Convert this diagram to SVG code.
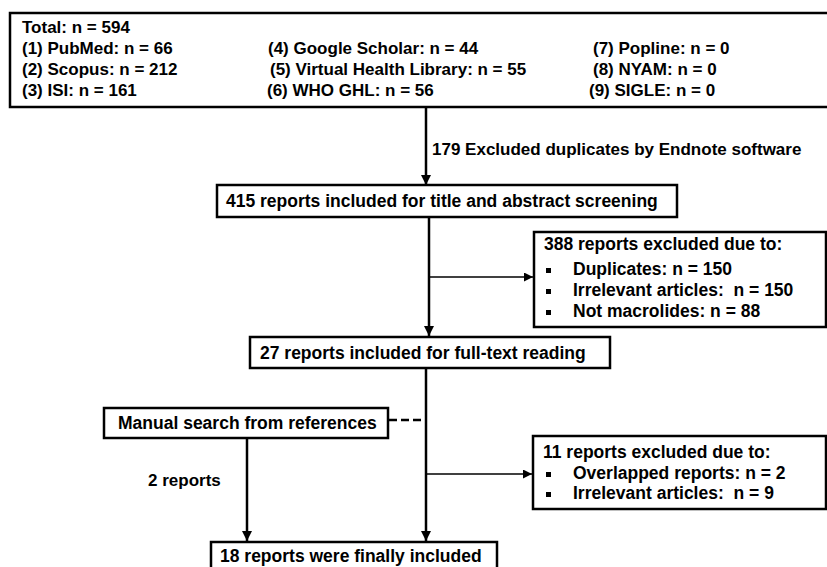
<svg xmlns="http://www.w3.org/2000/svg" width="827" height="567" viewBox="0 0 827 567">
<defs>
<style>
text{font-family:"Liberation Sans",Arial,sans-serif;font-weight:bold;font-size:17.5px;fill:#000}
.sm{font-size:17px}
.box{fill:#fff;stroke:#000;stroke-width:2.5}
.main{stroke:#000;stroke-width:2.5;fill:none}
.thin{stroke:#000;stroke-width:1.5;fill:none}
.dash{stroke:#000;stroke-width:2.5;fill:none;stroke-dasharray:8 4}
</style>
<marker id="ah" viewBox="0 0 10 10" refX="10" refY="5" markerWidth="4" markerHeight="4" orient="auto" markerUnits="strokeWidth">
<path d="M0,0 L10,5 L0,10 z" fill="#000"/>
</marker>
<marker id="ahs" viewBox="0 0 10 10" refX="10" refY="5" markerWidth="6" markerHeight="6" orient="auto" markerUnits="strokeWidth">
<path d="M0,0 L10,5 L0,10 z" fill="#000"/>
</marker>
</defs>
<rect width="827" height="567" fill="#fff"/>
<g id="connectors">
<line class="main" x1="426" y1="107" x2="426" y2="185" marker-end="url(#ah)"/>
<line class="main" x1="429" y1="217" x2="429" y2="336" marker-end="url(#ah)"/>
<line class="thin" x1="429" y1="277" x2="533" y2="277" marker-end="url(#ahs)"/>
<line class="main" x1="426" y1="368" x2="426" y2="541" marker-end="url(#ah)"/>
<line class="thin" x1="426" y1="474" x2="532" y2="474" marker-end="url(#ahs)"/>
<line class="main" x1="247" y1="438" x2="247" y2="541" marker-end="url(#ah)"/>
<line class="dash" x1="389" y1="420" x2="426" y2="420"/>
<text class="sm" x="432" y="155">179 Excluded duplicates by Endnote software</text>
<text class="sm" x="148" y="486">2 reports</text>
</g>
<g id="sources">
<rect class="box" x="10" y="13" width="830" height="94"/>
<text class="sm" x="22" y="33">Total: n = 594</text>
<text class="sm" x="22" y="54">(1) PubMed: n = 66</text>
<text class="sm" x="22" y="75">(2) Scopus: n = 212</text>
<text class="sm" x="22" y="96">(3) ISI: n = 161</text>
<text class="sm" x="268" y="54">(4) Google Scholar: n = 44</text>
<text class="sm" x="270" y="75">(5) Virtual Health Library: n = 55</text>
<text class="sm" x="267" y="96">(6) WHO GHL: n = 56</text>
<text class="sm" x="593" y="54">(7) Popline: n = 0</text>
<text class="sm" x="593" y="75">(8) NYAM: n = 0</text>
<text class="sm" x="589" y="96">(9) SIGLE: n = 0</text>
</g>
<g id="screening">
<rect class="box" x="217" y="185" width="460" height="32"/>
<text x="226" y="207">415 reports included for title and abstract screening</text>
</g>
<g id="excluded1">
<rect class="box" x="534" y="232" width="292" height="95"/>
<text x="544" y="250">388 reports excluded due to:</text>
<rect x="546" y="268" width="5" height="5"/>
<rect x="546" y="289" width="5" height="5"/>
<rect x="546" y="310" width="5" height="5"/>
<text x="573" y="275">Duplicates: n = 150</text>
<text x="573" y="296" xml:space="preserve">Irrelevant articles:  n = 150</text>
<text x="573" y="317">Not macrolides: n = 88</text>
</g>
<g id="fulltext">
<rect class="box" x="250" y="337" width="360" height="31"/>
<text x="260" y="359">27 reports included for full-text reading</text>
</g>
<g id="manual">
<rect class="box" x="104" y="408" width="284" height="30"/>
<text x="118" y="429">Manual search from references</text>
</g>
<g id="excluded2">
<rect class="box" x="533" y="436" width="293" height="73"/>
<text x="543" y="458">11 reports excluded due to:</text>
<rect x="546" y="472" width="5" height="5"/>
<rect x="546" y="492" width="5" height="5"/>
<text x="573" y="479">Overlapped reports: n = 2</text>
<text x="573" y="499" xml:space="preserve">Irrelevant articles:  n = 9</text>
</g>
<g id="final">
<rect class="box" x="211" y="542" width="286" height="35"/>
<text x="220" y="562">18 reports were finally included</text>
</g>
</svg>
